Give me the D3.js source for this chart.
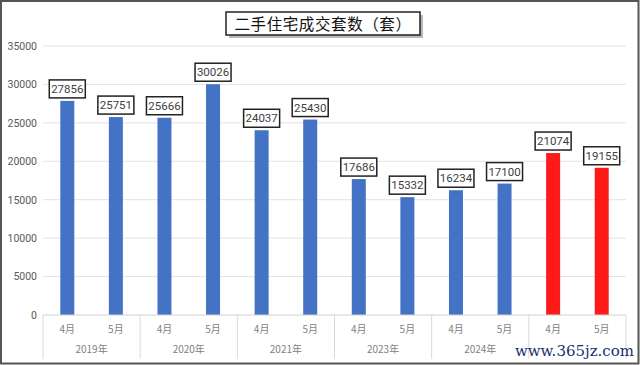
<!DOCTYPE html>
<html><head><meta charset="utf-8">
<script src="https://cdn.jsdelivr.net/npm/d3@7"></script>
<style>
html,body{margin:0;padding:0;background:#fff;}
svg{display:block;}
</style></head>
<body>
<svg id="chart" width="640" height="365"></svg>
<script>
const title = "二手住宅成交套数（套）";
const years = ["2019年","2020年","2021年","2023年","2024年",""];
const months = ["4月","5月"];
const values = [27856,25751,25666,30026,24037,25430,17686,15332,16234,17100,21074,19155];
const highlight = [false,false,false,false,false,false,false,false,false,false,true,true];
const yTicks = [0,5000,10000,15000,20000,25000,30000,35000];
const watermark = "www.365jz.com";

const svg = d3.select("#chart");
const W = 640, H = 365;
const m = {left:43, right:14, top:46, bottom:50};
const plotBottom = 315;

// frame
svg.append("rect").attr("x",1).attr("y",1).attr("width",W-2.5).attr("height",H-2.5)
  .attr("fill","#fff").attr("stroke","#555").attr("stroke-width",2);

const cats = [];
years.forEach((yr,i)=>months.forEach((mo,j)=>cats.push({key:i+"-"+j, year:yr, month:mo, yi:i})));
cats.forEach((c,i)=>{c.value=values[i]; c.hl=highlight[i];});

const x = d3.scaleBand().domain(cats.map(c=>c.key)).range([m.left, W-m.right]).paddingInner(0).paddingOuter(0);
const y = d3.scaleLinear().domain([0,35000]).range([plotBottom, m.top]);

// grid
svg.append("g").selectAll("line").data(yTicks.filter(t=>t>0)).join("line")
  .attr("x1",m.left).attr("x2",W-m.right)
  .attr("y1",d=>y(d)).attr("y2",d=>y(d))
  .attr("stroke","#e3e3e3").attr("stroke-width",1);

// y axis labels
const yAxis = d3.axisLeft(y).tickValues(yTicks).tickSize(0).tickPadding(6).tickFormat(d3.format("d"));
const ya = svg.append("g").attr("transform",`translate(${m.left},0)`).call(yAxis);
ya.select(".domain").remove();
ya.selectAll("text").attr("font-family","Roboto, 'Noto Sans', sans-serif").attr("font-size",10.5).attr("fill","#595959");

// bars
const bw = 14;
svg.append("g").selectAll("rect").data(cats).join("rect")
  .attr("x",d=>x(d.key)+x.bandwidth()/2-bw/2)
  .attr("width",bw)
  .attr("y",d=>y(d.value))
  .attr("height",d=>plotBottom-y(d.value))
  .attr("fill",d=>d.hl?"#ff1a1a":"#4472c4");

// x axis baseline
svg.append("line").attr("x1",m.left).attr("x2",W-m.right).attr("y1",plotBottom).attr("y2",plotBottom)
  .attr("stroke","#d0d0d0");

// group separators
const groupEdges = d3.range(years.length+1).map(i=>x(cats[Math.min(i*2,cats.length-1)].key) + (i*2>=cats.length? x.bandwidth():0));
svg.append("g").selectAll("line").data(groupEdges).join("line")
  .attr("x1",d=>d).attr("x2",d=>d).attr("y1",plotBottom).attr("y2",359)
  .attr("stroke","#d9d9d9");

// month labels
svg.append("g").selectAll("text").data(cats).join("text")
  .attr("x",d=>x(d.key)+x.bandwidth()/2).attr("y",333)
  .attr("text-anchor","middle").attr("font-family","'Noto Sans CJK SC', sans-serif")
  .attr("font-size",10).attr("fill","#7f7f7f").text(d=>d.month);

// year labels
svg.append("g").selectAll("text").data(years).join("text")
  .attr("x",(d,i)=>(groupEdges[i]+groupEdges[i+1])/2).attr("y",353)
  .attr("text-anchor","middle").attr("font-family","'Noto Sans CJK SC', sans-serif")
  .attr("font-size",10).attr("fill","#7f7f7f").text(d=>d);

// value labels with boxes
const lg = svg.append("g").selectAll("g").data(cats).join("g")
  .attr("transform",d=>`translate(${x(d.key)+x.bandwidth()/2},${y(d.value)-12})`);
lg.append("rect").attr("x",-18).attr("y",-9).attr("width",36).attr("height",18)
  .attr("fill","#fff").attr("stroke","#222").attr("stroke-width",1.5);
lg.append("text").attr("text-anchor","middle").attr("dy","0.36em")
  .attr("font-family","Roboto, 'Noto Sans', sans-serif").attr("font-size",11.5).attr("fill","#404040")
  .text(d=>d.value);

// title box with shadow
const tg = svg.append("g");
tg.append("rect").attr("x",229).attr("y",15).attr("width",194).attr("height",23).attr("fill","#8a8a8a").attr("opacity",0.6);
tg.append("rect").attr("x",226).attr("y",12).attr("width",194).attr("height",23)
  .attr("fill","#fff").attr("stroke","#222").attr("stroke-width",1.5);
tg.append("text").attr("x",323).attr("y",24).attr("dy","0.36em").attr("text-anchor","middle")
  .attr("font-family","'Noto Sans CJK SC', sans-serif").attr("font-size",15.5).attr("fill","#111")
  .attr("letter-spacing",0.6).text(title);

// watermark
svg.append("text").attr("x",634).attr("y",356).attr("text-anchor","end")
  .attr("font-family","'DejaVu Serif', 'Liberation Serif', serif").attr("font-size",15)
  .attr("fill","#1a2f6e").text(watermark);
</script>
</body></html>
